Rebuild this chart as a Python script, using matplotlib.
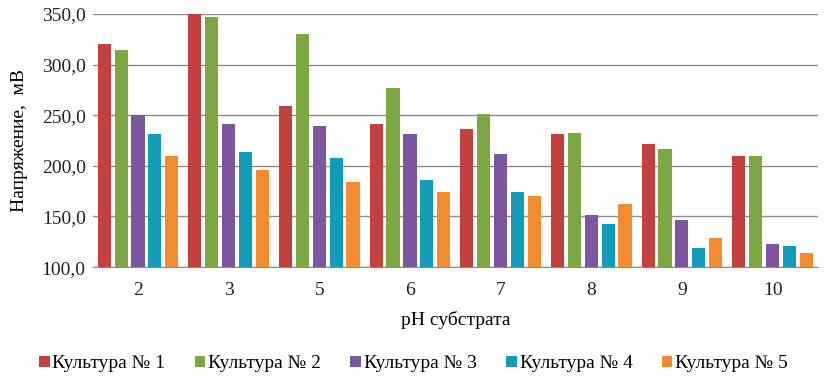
import numpy as np
import matplotlib.pyplot as plt

plt.rcParams['font.family'] = ['Liberation Serif', 'DejaVu Serif']

ph_labels = ["2", "3", "5", "6", "7", "8", "9", "10"]
series_names = ["Культура № 1", "Культура № 2", "Культура № 3", "Культура № 4", "Культура № 5"]

kultura1 = [320, 350, 259, 241, 236, 231, 222, 210]
kultura2 = [314, 347, 330, 277, 251, 232, 217, 210]
kultura3 = [250, 241, 239, 231, 212, 151, 147, 123]
kultura4 = [231, 214, 208, 186, 174, 143, 119, 121]
kultura5 = [210, 196, 184, 174, 170, 162, 129, 114]

colors = ["#C4403C", "#7BA840", "#7D56A0", "#119DB8", "#F68A2E"]

fig = plt.figure(figsize=(8.27, 3.86), dpi=100)
ax = fig.add_axes([0.112, 0.308, 0.877, 0.656])

x = np.arange(len(ph_labels))
step = 0.186
width = 0.145
all_series = [kultura1, kultura2, kultura3, kultura4, kultura5]
for i, vals in enumerate(all_series):
    ax.bar(x + (i - 2) * step, np.array(vals) - 100, bottom=100, width=width,
           color=colors[i], label=series_names[i], zorder=3)

ax.set_ylim(100, 350)
ax.set_xlim(-0.5, len(ph_labels) - 0.5)
ax.set_yticks([100, 150, 200, 250, 300, 350])
ax.set_yticklabels(["100,0", "150,0", "200,0", "250,0", "300,0", "350,0"])
ax.set_xticks(x)
ax.set_xticklabels(ph_labels)
ax.tick_params(axis='both', length=0, labelsize=14, colors='#222222')
ax.tick_params(axis='x', pad=11)
ax.tick_params(axis='y', pad=5)

ax.grid(axis='y', color='#8C8C8C', linewidth=1, zorder=0)
for s in ['top', 'right', 'left']:
    ax.spines[s].set_visible(False)
ax.spines['bottom'].set_color('#8C8C8C')

ax.set_xlabel("pH субстрата", fontsize=14, labelpad=8)
ax.set_ylabel("Напряжение,  мВ", fontsize=14, labelpad=10)

fig.legend(loc='lower center', bbox_to_anchor=(0.5, -0.01), ncol=5, frameon=False,
           fontsize=14, handlelength=0.55, handleheight=0.55, handletextpad=0.15,
           columnspacing=1.5)

fig.savefig("out.png", dpi=100)
